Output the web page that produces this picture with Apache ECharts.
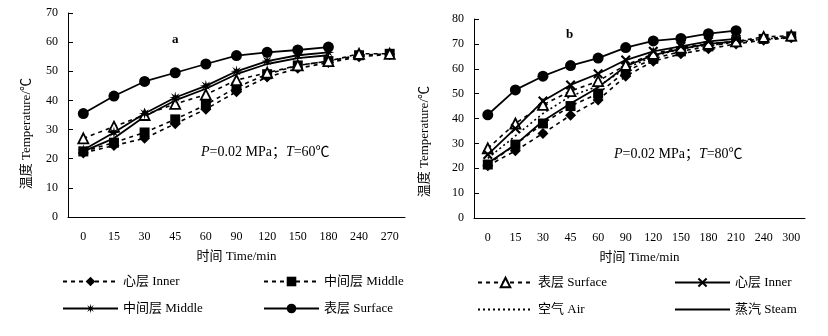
<!DOCTYPE html>
<html><head><meta charset="utf-8">
<script src="https://cdn.jsdelivr.net/npm/echarts@6/dist/echarts.min.js"></script>
<style>html,body{margin:0;padding:0;background:#fff}#c{width:828px;height:336px}</style>
</head><body><div id="c"></div>
<script>
// ---------- data ----------
const catsA = ['0','15','30','45','60','90','120','150','180','240','270'];
const catsB = ['0','15','30','45','60','90','120','150','180','210','240','300'];

// panel a (T=60℃)
const aSurfaceCircle = [35.5, 41.5, 46.5, 49.5, 52.5, 55.4, 56.5, 57.3, 58.3, null, null];
const aMiddleStar    = [23, 29, 35.5, 41, 45, 50, 53.5, 55.5, 56.5, null, null];
const aInnerSolid    = [22.5, 27, 34.5, 40, 44, 49, 52.5, 54.5, 55.5, null, null];
const aSurfaceTri    = [27, 31, 35, 38.8, 42, 47, 49.5, 52, 53.5, 56, 56];
const aMiddleSquare  = [22.5, 25.5, 29, 33.5, 38.5, 44.5, 49, 52, 53.5, 55.5, 56];
const aInnerDiamond  = [22, 24.5, 27, 32, 37, 43, 48, 51, 53, 55, 55.8];

// panel b (T=80℃)
const bSurfaceCircle = [41.5, 51.5, 57, 61.3, 64.3, 68.5, 71.2, 72.2, 74.1, 75.3, null, null];
const bInnerX        = [25.5, 36, 47, 53.5, 58, 63.5, 67, 69, 71, 72, null, null];
const bSurfaceTri    = [28, 38, 45.5, 51, 55, 61.5, 66, 68.5, 70, 71, 72.8, 73.3];
const bAir           = [24, 33, 42, 49, 53, 60, 65, 68, 69.5, 70.5, 72, 72.5];
const bMiddleSquare  = [21.5, 29.5, 38, 45, 50, 59, 64, 67, 69, 71, 72, 73];
const bInnerDiamond  = [21, 27, 34, 41.3, 47.4, 57, 63, 66, 68, 70, 71.5, 72.5];
const bSteam         = [22, 29.5, 39, 46, 52.5, 61, 65.5, 68, 70, 71, null, null];

const yA = {min: 0, max: 70, interval: 10};
const yB = {min: 0, max: 80, interval: 10};

// ---------- styling ----------
const FONT = "'Liberation Serif','Noto Sans CJK SC',serif";
const STAR = 'path://M5,0 L5.69,3.34 L8.54,1.46 L6.66,4.31 L10,5 L6.66,5.69 L8.54,8.54 L5.69,6.66 L5,10 L4.31,6.66 L1.46,8.54 L3.34,5.69 L0,5 L3.34,4.31 L1.46,1.46 L4.31,3.34 Z';
const XMARK = 'path://M0,1.5 L1.5,0 L5,3.5 L8.5,0 L10,1.5 L6.5,5 L10,8.5 L8.5,10 L5,6.5 L1.5,10 L0,8.5 L3.5,5 Z';

function ser(name, gi, data, opt) {
  return Object.assign({
    name: name, type: 'line', xAxisIndex: gi, yAxisIndex: gi, data: data,
    connectNulls: false, animation: false,
    lineStyle: {color: '#000', width: 1.6},
    itemStyle: {color: '#000'},
    symbolSize: 9
  }, opt);
}
const dashed = {color: '#000', width: 1.6, type: [4, 4]};
const dotted = {color: '#000', width: 1.6, type: [2, 3]};
const solid = {color: '#000', width: 1.8};
const triStyle = {color: '#fff', borderColor: '#000', borderWidth: 1.8};

function xAxis(gi, cats) {
  return {
    type: 'category', gridIndex: gi, data: cats, boundaryGap: true,
    axisLine: {lineStyle: {color: '#000', width: 1}},
    axisTick: {inside: true, length: 5, lineStyle: {color: '#000'}},
    axisLabel: {color: '#000', fontFamily: FONT, fontSize: 12, margin: 14},
    name: '时间 Time/min', nameLocation: 'middle', nameGap: 33,
    nameTextStyle: {color: '#000', fontFamily: FONT, fontSize: 13}
  };
}
function yAxis(gi, r) {
  return {
    type: 'value', gridIndex: gi, min: r.min, max: r.max, interval: r.interval,
    axisLine: {show: true, lineStyle: {color: '#000', width: 1}},
    axisTick: {show: true, inside: true, length: 5, lineStyle: {color: '#000'}},
    splitLine: {show: false},
    axisLabel: {color: '#000', fontFamily: FONT, fontSize: 12, margin: 10}
  };
}
const fmt = n => n.split('#')[0];
const legTxt = {color: '#000', fontFamily: FONT, fontSize: 13};
function leg(left, top, names) {
  return {left: left, top: top, orient: 'vertical', itemGap: 14, itemWidth: 55, itemHeight: 12,
    data: names, formatter: fmt, textStyle: legTxt, selectedMode: false};
}
const noSym = {itemStyle: {opacity: 0}};

const option = {
  backgroundColor: '#fff',
  animation: false,
  grid: [
    {left: 68, top: 13, width: 337, height: 204},
    {left: 474, top: 19, width: 331, height: 199}
  ],
  xAxis: [xAxis(0, catsA), xAxis(1, catsB)],
  yAxis: [yAxis(0, yA), yAxis(1, yB)],
  legend: [
    leg(57, 270, ['心层 Inner#a', '中间层 Middle#star']),
    leg(258, 270, ['中间层 Middle#sq', '表层 Surface#circle']),
    leg(472, 271, ['表层 Surface#tri', Object.assign({name: '空气 Air'}, noSym)]),
    leg(669, 271, ['心层 Inner#x', Object.assign({name: '蒸汽 Steam'}, noSym)])
  ],
  series: [
    // panel a
    ser('心层 Inner#a', 0, aInnerDiamond, {symbol: 'diamond', symbolSize: 11, lineStyle: dashed}),
    ser('中间层 Middle#sq', 0, aMiddleSquare, {symbol: 'rect', symbolSize: 10, lineStyle: dashed}),
    ser('表层 Surface#tri', 0, aSurfaceTri, {symbol: 'triangle', symbolSize: 10, lineStyle: dashed, itemStyle: triStyle}),
    ser('蒸汽 Steam', 0, aInnerSolid, {symbol: 'none', lineStyle: solid}),
    ser('中间层 Middle#star', 0, aMiddleStar, {symbol: STAR, symbolSize: 12, lineStyle: solid}),
    ser('表层 Surface#circle', 0, aSurfaceCircle, {symbol: 'circle', symbolSize: 11, lineStyle: solid}),
    // panel b
    ser('心层 Inner#a', 1, bInnerDiamond, {symbol: 'diamond', symbolSize: 11, lineStyle: dashed}),
    ser('中间层 Middle#sq', 1, bMiddleSquare, {symbol: 'rect', symbolSize: 10, lineStyle: dashed}),
    ser('空气 Air', 1, bAir, {symbol: 'none', lineStyle: dotted}),
    ser('表层 Surface#tri', 1, bSurfaceTri, {symbol: 'triangle', symbolSize: 10, lineStyle: dashed, itemStyle: triStyle}),
    ser('蒸汽 Steam', 1, bSteam, {symbol: 'none', lineStyle: solid}),
    ser('心层 Inner#x', 1, bInnerX, {symbol: XMARK, symbolSize: 10, lineStyle: solid}),
    ser('表层 Surface#circle', 1, bSurfaceCircle, {symbol: 'circle', symbolSize: 11, lineStyle: solid})
  ],
  graphic: [
    {type: 'text', left: 20, top: 78, rotation: Math.PI / 2,
      style: {text: '温度 Temperature/℃', font: "13px " + FONT, fill: '#000'}},
    {type: 'text', left: 418, top: 86, rotation: Math.PI / 2,
      style: {text: '温度 Temperature/℃', font: "13px " + FONT, fill: '#000'}},
    {type: 'text', left: 172, top: 33, style: {text: 'a', font: "bold 13px " + FONT, fill: '#000'}},
    {type: 'text', left: 566, top: 28, style: {text: 'b', font: "bold 13px " + FONT, fill: '#000'}},
    {type: 'text', left: 201, top: 145, style: {
      text: '{i|P}=0.02 MPa；{i|T}=60℃', font: "14px " + FONT, fill: '#000',
      rich: {i: {fontStyle: 'italic', fontFamily: FONT, fontSize: 14}}}},
    {type: 'text', left: 614, top: 147, style: {
      text: '{i|P}=0.02 MPa；{i|T}=80℃', font: "14px " + FONT, fill: '#000',
      rich: {i: {fontStyle: 'italic', fontFamily: FONT, fontSize: 14}}}}
  ]
};
const chart = echarts.init(document.getElementById('c'), null, {renderer: 'canvas'});
chart.setOption(option);
</script></body></html>
